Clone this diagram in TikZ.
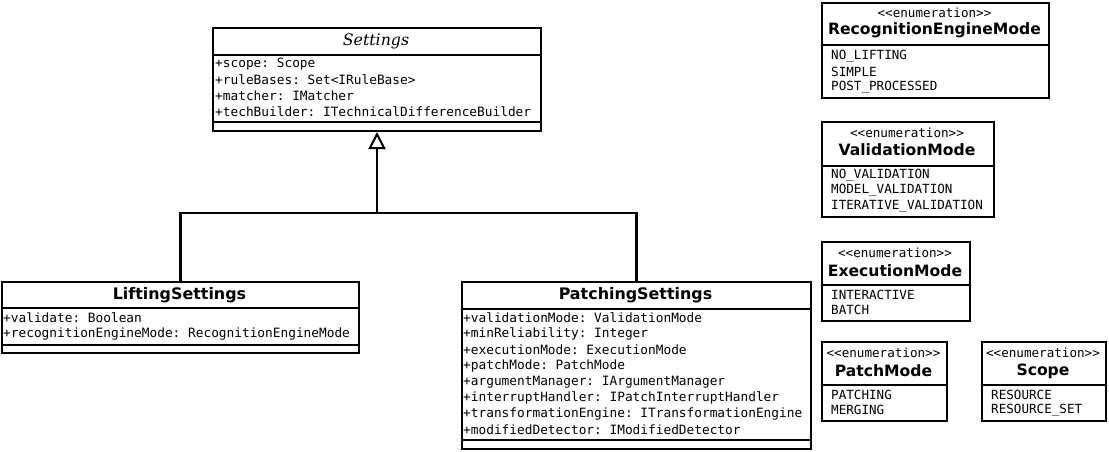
\documentclass[tikz,border=0pt]{standalone}
\usepackage{fontspec}
\setmonofont{DejaVu Sans Mono}
\newfontfamily\boldsans{DejaVu Sans Bold}
\newfontfamily\serifital{DejaVu Serif Italic}
\usetikzlibrary{arrows.meta}
\begin{document}
\begin{tikzpicture}[x=1pt,y=-1pt,
  umlbox/.style={draw=black, line width=2pt, rectangle, inner sep=0pt, anchor=north west},
  sepline/.style={line width=2pt},
  attr/.style={font=\ttfamily\fontsize{12.8}{14}\selectfont, inner sep=0pt, anchor=west},
  lit/.style={font=\ttfamily\fontsize{12.6}{14}\selectfont, inner sep=0pt, anchor=west},
  stereo/.style={font=\ttfamily\fontsize{12.6}{13}\selectfont, inner sep=0pt},
  ctitle/.style={font=\boldsans\fontsize{15.9}{17}\selectfont, inner sep=0pt},
  etitle/.style={font=\boldsans\fontsize{15.6}{17}\selectfont, inner sep=0pt},
  conn/.style={line width=2.2pt}
]
\useasboundingbox (0,0) rectangle (1109,451);
\fill[white] (0,0) rectangle (1109,451);

% Settings
\node[umlbox, minimum width=328pt, minimum height=103pt] (settings) at (212,27) {};
\draw[sepline] (settings.west |- 0,55) -- (settings.east |- 0,55);
\draw[sepline] (settings.west |- 0,122) -- (settings.east |- 0,122);
\node[font=\serifital\fontsize{15.8}{17}\selectfont, inner sep=0pt] (settingsT) at (376,41) {Settings};
\node[attr] (s1) at (215,64) {+scope: Scope};
\node[attr] (s2) at (215,80) {+ruleBases: Set<IRuleBase>};
\node[attr] (s3) at (215,96) {+matcher: IMatcher};
\node[attr] (s4) at (215,112) {+techBuilder: ITechnicalDifferenceBuilder};

% LiftingSettings
\node[umlbox, minimum width=357pt, minimum height=71pt] (lift) at (1,281) {};
\draw[sepline] (lift.west |- 0,308) -- (lift.east |- 0,308);
\draw[sepline] (lift.west |- 0,345) -- (lift.east |- 0,345);
\node[ctitle] (liftT) at (179.5,295) {LiftingSettings};
\node[attr] (l1) at (3,318) {+validate: Boolean};
\node[attr] (l2) at (3,334) {+recognitionEngineMode: RecognitionEngineMode};

% PatchingSettings
\node[umlbox, minimum width=349pt, minimum height=167pt] (patch) at (461,281) {};
\draw[sepline] (patch.west |- 0,309) -- (patch.east |- 0,309);
\draw[sepline] (patch.west |- 0,440) -- (patch.east |- 0,440);
\node[ctitle] (patchT) at (635.5,295) {PatchingSettings};
\node[attr] (p1) at (463,318) {+validationMode: ValidationMode};
\node[attr] (p2) at (463,334) {+minReliability: Integer};
\node[attr] (p3) at (463,350) {+executionMode: ExecutionMode};
\node[attr] (p4) at (463,366) {+patchMode: PatchMode};
\node[attr] (p5) at (463,382) {+argumentManager: IArgumentManager};
\node[attr] (p6) at (463,398) {+interruptHandler: IPatchInterruptHandler};
\node[attr] (p7) at (463,414) {+transformationEngine: ITransformationEngine};
\node[attr] (p8) at (463,430) {+modifiedDetector: IModifiedDetector};

% Generalization
\coordinate (j) at (settings.south |- 0,213);
\draw[conn] (lift.north) |- (j);
\draw[conn] (patch.north) |- (j);
\draw[conn, -{Triangle[open, length=17pt, width=17pt, line width=2pt]}] (j) -- (settings.south);

% RecognitionEngineMode
\node[umlbox, minimum width=227pt, minimum height=95pt] (rem) at (821,2) {};
\draw[sepline] (rem.west |- 0,45) -- (rem.east |- 0,45);
\node[stereo] (remS) at (934.5,13) {<<enumeration>>};
\node[etitle] (remT) at (934.5,30) {RecognitionEngineMode};
\node[lit] (rem1) at (831,56) {NO\_LIFTING};
\node[lit] (rem2) at (831,71.5) {SIMPLE};
\node[lit] (rem3) at (831,87) {POST\_PROCESSED};

% ValidationMode
\node[umlbox, minimum width=172pt, minimum height=95pt] (vm) at (821,121) {};
\draw[sepline] (vm.west |- 0,166) -- (vm.east |- 0,166);
\node[stereo] (vmS) at (907,133) {<<enumeration>>};
\node[etitle] (vmT) at (907,150) {ValidationMode};
\node[lit] (vm1) at (831,175) {NO\_VALIDATION};
\node[lit] (vm2) at (831,190.5) {MODEL\_VALIDATION};
\node[lit] (vm3) at (831,206) {ITERATIVE\_VALIDATION};

% ExecutionMode
\node[umlbox, minimum width=148pt, minimum height=79pt] (em) at (821,241) {};
\draw[sepline] (em.west |- 0,285) -- (em.east |- 0,285);
\node[stereo] (emS) at (895,253) {<<enumeration>>};
\node[etitle] (emT) at (895,271) {ExecutionMode};
\node[lit] (em1) at (831,295) {INTERACTIVE};
\node[lit] (em2) at (831,310) {BATCH};

% PatchMode
\node[umlbox, minimum width=125pt, minimum height=79pt] (pm) at (821,341) {};
\draw[sepline] (pm.west |- 0,385) -- (pm.east |- 0,385);
\node[stereo] (pmS) at (883.5,353) {<<enumeration>>};
\node[etitle] (pmT) at (883.5,371) {PatchMode};
\node[lit] (pm1) at (831,395) {PATCHING};
\node[lit] (pm2) at (831,410) {MERGING};

% Scope
\node[umlbox, minimum width=124pt, minimum height=79pt] (sc) at (981,341) {};
\draw[sepline] (sc.west |- 0,385) -- (sc.east |- 0,385);
\node[stereo] (scS) at (1043,353) {<<enumeration>>};
\node[etitle] (scT) at (1043,371) {Scope};
\node[lit] (sc1) at (991,395) {RESOURCE};
\node[lit] (sc2) at (991,410) {RESOURCE\_SET};
\end{tikzpicture}
\end{document}
